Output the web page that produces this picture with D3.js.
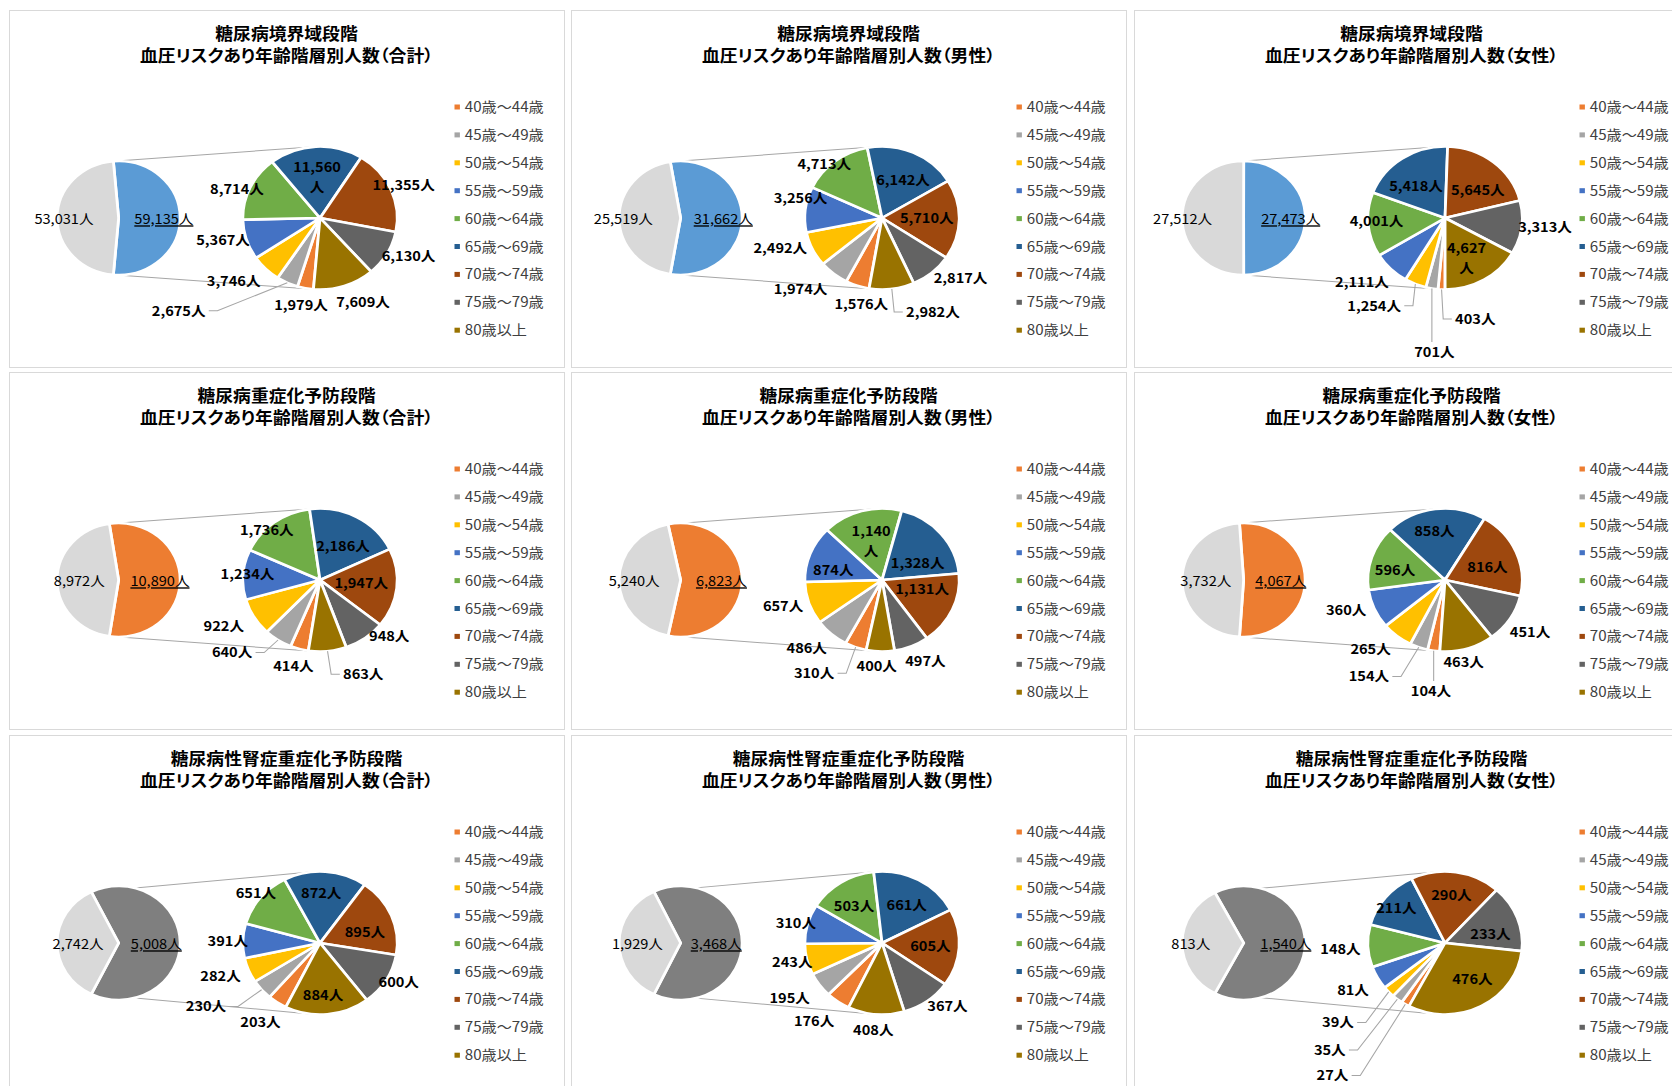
<!DOCTYPE html>
<html>
<head>
<meta charset="utf-8">
<script src="https://cdnjs.cloudflare.com/ajax/libs/d3/7.8.5/d3.min.js"></script>
<style>
body { margin: 0; background: #fff; }
text { font-family: "Noto Sans CJK JP", "Noto Sans", sans-serif; }
</style>
</head>
<body>
<div id="chart"></div>
<script>
var ageGroups = ["40歳～44歳", "45歳～49歳", "50歳～54歳", "55歳～59歳", "60歳～64歳",
                 "65歳～69歳", "70歳～74歳", "75歳～79歳", "80歳以上"];
var ageColors = ["#ED7D31", "#A5A5A5", "#FFC000", "#4472C4", "#70AD47",
                 "#255E91", "#9E480E", "#636363", "#997300"];

var stageNames = ["糖尿病境界域段階", "糖尿病重症化予防段階", "糖尿病性腎症重症化予防段階"];
var sexNames = ["合計", "男性", "女性"];

// people with blood pressure risk, by age group
var borderlineTotal  = [1979, 2675, 3746, 5367, 8714, 11560, 11355, 6130, 7609];
var borderlineMale   = [1576, 1974, 2492, 3256, 4713, 6142, 5710, 2817, 2982];
var borderlineFemale = [403, 701, 1254, 2111, 4001, 5418, 5645, 3313, 4627];
var severeTotal  = [414, 640, 922, 1234, 1736, 2186, 1947, 948, 863];
var severeMale   = [310, 486, 657, 874, 1140, 1328, 1131, 497, 400];
var severeFemale = [104, 154, 265, 360, 596, 858, 816, 451, 463];
var nephroTotal  = [203, 230, 282, 391, 651, 872, 895, 600, 884];
var nephroMale   = [176, 195, 243, 310, 503, 661, 605, 367, 408];
var nephroFemale = [27, 35, 39, 81, 148, 211, 290, 233, 476];

// people without the risk (grey slice of the big pie), 合計 / 男性 / 女性
var borderlineRest = [53031, 25519, 27512];
var severeRest     = [8972, 5240, 3732];
var nephroRest     = [2742, 1929, 813];

var otherColors = ["#5B9BD5", "#ED7D31", "#7F7F7F"];
var restColor = "#D9D9D9";

// label placement, offsets from the small pie centre (unstretched px)
var labelOffsets = [
  [[-17.6, 86.8], [-130.9, 92.8], [-80, 63.5], [-89.8, 21.8], [-76.9, -29.2], [-2.8, -40.5], [77.4, -32.5], [82, 38.5], [39.8, 84.1]],
  [[-19.2, 86.1], [-75.5, 71.1], [-94.2, 30.1], [-75.5, -19.9], [-53.5, -53.9], [19.5, -38.2], [41.4, 0.1], [72.7, 60.1], [47.1, 94.1]],
  [[28, 101.1], [-9.8, 134.1], [-65.6, 87.8], [-76.9, 64.5], [-63.4, 3.5], [-26.9, -32.2], [30.3, -27.5], [92.6, 9.5], [19.9, 40.6]],
  [[-24.6, 86.6], [-81.4, 72.6], [-89.1, 46], [-67.2, -5.7], [-49.3, -50], [21.3, -34], [38.2, 3.3], [64.1, 56.6], [40, 94.3]],
  [[-62.9, 93.3], [-69.7, 68.6], [-91.6, 26.6], [-45.1, -10], [-10.1, -38.5], [33, -16.4], [37.1, 9.3], [40.2, 81], [-4.9, 86.6]],
  [[-13, 111], [-70.5, 96.6], [-68.9, 69.3], [-91.5, 30], [-46.3, -9.7], [-9.8, -49], [39.3, -12.4], [78.7, 52], [17.3, 82.6]],
  [[-55.1, 79.1], [-105.6, 63.5], [-92.1, 33.5], [-85.4, -1.5], [-59.4, -49.9], [1.1, -49.9], [41.6, -10.9], [72.9, 39.1], [2.8, 51.8]],
  [[-62.9, 77.8], [-85.5, 55.1], [-83.1, 19.1], [-79.8, -19.9], [-25.9, -37.2], [22.9, -38.2], [44.8, 3.5], [60.6, 63.5], [-8.1, 86.8]],
  [[-104.2, 132.5], [-106.7, 107], [-99.1, 79.5], [-85.2, 46.8], [-96.8, 6.1], [-45, -34.9], [5.9, -48.2], [42.1, -9.2], [25.4, 36.1]]
];
var wrappedLabels = [[5], [], [8], [], [4], [], [], [], []];
var leaderLabels = [[1], [8], [0, 1, 2], [1, 8], [0], [0, 1], [1], [], [0, 1, 2]];
var restLabelDx  = [-50.6, -53, -56.5, -36.4, -43, -35, -37.5, -40, -48.9];
var otherLabelDx = [41.9, 39.5, 43.6, 38.3, 37.8, 34.4, 34.9, 33, 39.1];

var stageAges = [[borderlineTotal, borderlineMale, borderlineFemale],
                 [severeTotal, severeMale, severeFemale],
                 [nephroTotal, nephroMale, nephroFemale]];
var stageRest = [borderlineRest, severeRest, nephroRest];

var width = 1672, height = 1086;
var panelX = [9, 571, 1134], panelY = [10, 372, 735];
var panelW = 555, panelH = 357;
var stretch = 1.08;       // the source screenshot is a bit wider than tall
var innerW = panelW / stretch;
var cx1 = 101.5, cx2 = 288, cy = 208, r1 = 57, r2 = 71.5;

var fmt = d3.format(",");

var svg = d3.select('#chart')
    .append('svg')
    .attr('width', width)
    .attr('height', height);

svg.append('rect')
    .attr('width', width)
    .attr('height', height)
    .attr('fill', '#fff');

function tangentPoint(p, c, r, upper) {
    var dx = c[0] - p[0], dy = c[1] - p[1];
    var d = Math.sqrt(dx * dx + dy * dy);
    var phi = Math.atan2(dy, dx), beta = Math.asin(r / d), len = Math.sqrt(d * d - r * r);
    var a = [phi - beta, phi + beta].map(function (t) {
        return [p[0] + len * Math.cos(t), p[1] + len * Math.sin(t)];
    });
    a.sort(function (m, n) { return m[1] - n[1]; });
    return upper ? a[0] : a[1];
}

var line = d3.line();

for (var i = 0; i < 9; i++) {
    var row = Math.floor(i / 3), col = i % 3;
    var ages = stageAges[row][col];
    var rest = stageRest[row][col];
    var otherTotal = d3.sum(ages);

    svg.append('rect')
        .attr('x', panelX[col] + 0.5)
        .attr('y', panelY[row] + 0.5)
        .attr('width', panelW)
        .attr('height', panelH)
        .attr('fill', '#fff')
        .attr('stroke', '#D9D9D9')
        .attr('stroke-width', 1);

    var g = svg.append('g')
        .attr('transform', 'translate(' + panelX[col] + ',' + panelY[row] + ') scale(' + stretch + ',1)');

    // title
    var title = g.append('text')
        .attr('text-anchor', 'middle')
        .style('font-size', '16.5px')
        .style('font-weight', 'bold')
        .style('font-feature-settings', '"palt"')
        .attr('fill', '#000');
    title.append('tspan').attr('x', innerW / 2).attr('y', 24).attr('dy', '0.36em').text(stageNames[row]);
    title.append('tspan').attr('x', innerW / 2).attr('y', 46).attr('dy', '0.36em')
        .text('血圧リスクあり年齢階層別人数（' + sexNames[col] + '）');

    // big pie: the risk group faces the small pie
    var theta = 2 * Math.PI * otherTotal / (otherTotal + rest);
    var a0 = Math.PI / 2 - theta / 2;
    var pie1 = d3.pie().sort(null).startAngle(a0).endAngle(a0 + 2 * Math.PI);
    var arcs1 = pie1([otherTotal, rest]);
    var arc1 = d3.arc().innerRadius(0).outerRadius(r1);

    var pie2 = d3.pie().sort(null).startAngle(Math.PI / 2 + theta / 2).endAngle(Math.PI / 2 + theta / 2 + 2 * Math.PI);
    var arcs2 = pie2(ages);
    var arc2 = d3.arc().innerRadius(0).outerRadius(r2);

    // series lines between the pies
    var pTop = [cx1 + r1 * Math.sin(a0), cy - r1 * Math.cos(a0)];
    var pBot = [cx1 + r1 * Math.sin(a0 + theta), cy - r1 * Math.cos(a0 + theta)];
    [[pTop, true], [pBot, false]].forEach(function (s) {
        var t = tangentPoint(s[0], [cx2, cy], r2, s[1]);
        g.append('path')
            .attr('d', line([s[0], t]))
            .attr('fill', 'none')
            .attr('stroke', '#A6A6A6')
            .attr('stroke-width', 1);
    });

    g.append('g')
        .attr('transform', 'translate(' + cx1 + ',' + cy + ')')
        .selectAll('path')
        .data(arcs1)
        .enter().append('path')
        .attr('d', arc1)
        .attr('fill', function (d, k) { return k === 0 ? otherColors[row] : restColor; })
        .attr('stroke', '#fff')
        .attr('stroke-width', 2.6);

    g.append('g')
        .attr('transform', 'translate(' + cx2 + ',' + cy + ')')
        .selectAll('path')
        .data(arcs2)
        .enter().append('path')
        .attr('d', arc2)
        .attr('fill', function (d, k) { return ageColors[k]; })
        .attr('stroke', '#fff')
        .attr('stroke-width', 2.6);

    // big pie labels
    g.append('text')
        .attr('x', cx1 + restLabelDx[i])
        .attr('y', cy + 1.5)
        .attr('dy', '0.36em')
        .attr('text-anchor', 'middle')
        .style('font-size', '13.5px')
        .attr('fill', '#000')
        .text(fmt(rest) + '人');
    g.append('text')
        .attr('x', cx1 + otherLabelDx[i])
        .attr('y', cy + 1.5)
        .attr('dy', '0.36em')
        .attr('text-anchor', 'middle')
        .style('font-size', '13.5px')
        .style('text-decoration', 'underline')
        .attr('fill', '#000')
        .text(fmt(otherTotal) + '人');

    // small pie labels
    arcs2.forEach(function (d, k) {
        var off = labelOffsets[i][k];
        var lx = cx2 + off[0], ly = cy + off[1];
        var t = g.append('text')
            .attr('text-anchor', 'middle')
            .style('font-size', '13.5px')
            .style('font-weight', 'bold')
            .attr('fill', '#000');
        if (wrappedLabels[i].indexOf(k) >= 0) {
            t.append('tspan').attr('x', lx).attr('y', ly - 10).attr('dy', '0.36em').text(fmt(d.data));
            t.append('tspan').attr('x', lx).attr('y', ly + 10).attr('dy', '0.36em').text('人');
        } else {
            t.attr('x', lx).attr('y', ly).attr('dy', '0.36em').text(fmt(d.data) + '人');
        }
        if (leaderLabels[i].indexOf(k) >= 0) {
            var mid = (d.startAngle + d.endAngle) / 2;
            var edge = [cx2 + r2 * Math.sin(mid), cy - r2 * Math.cos(mid)];
            var w = t.node().getComputedTextLength();
            var pts;
            if (lx - w / 2 > edge[0]) {
                pts = [[lx - w / 2 - 3, ly], [lx - w / 2 - 11, ly], edge];
            } else if (lx + w / 2 < edge[0]) {
                pts = [[lx + w / 2 + 3, ly], [lx + w / 2 + 11, ly], edge];
            } else {
                pts = [[edge[0], ly - 10], edge];
            }
            g.append('path')
                .attr('d', line(pts))
                .attr('fill', 'none')
                .attr('stroke', '#A6A6A6')
                .attr('stroke-width', 1);
        }
    });

    // legend
    var legend = g.selectAll('.legend' + i)
        .data(ageGroups)
        .enter().append('g')
        .attr('transform', function (d, k) { return 'translate(0,' + (97 + k * 27.9) + ')'; });
    legend.append('rect')
        .attr('x', 412.5)
        .attr('y', -2.5)
        .attr('width', 5)
        .attr('height', 5)
        .attr('fill', function (d, k) { return ageColors[k]; });
    legend.append('text')
        .attr('x', 422)
        .attr('y', 0)
        .attr('dy', '0.36em')
        .style('font-size', '14px')
        .attr('fill', '#404040')
        .text(function (d) { return d; });
}
</script>
</body>
</html>
